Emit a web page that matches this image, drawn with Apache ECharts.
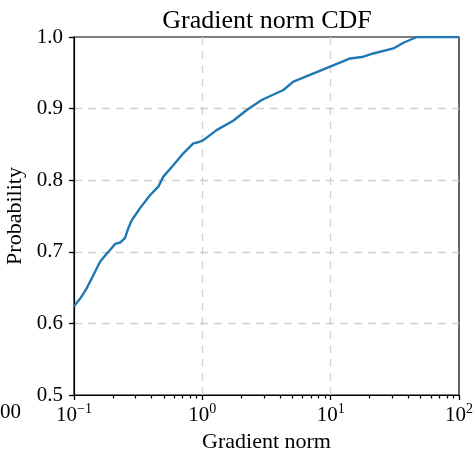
<!DOCTYPE html>
<html><head><meta charset="utf-8">
<script src="https://cdn.jsdelivr.net/npm/echarts@6/dist/echarts.min.js"></script>
<style>html,body{margin:0;padding:0;background:#fff}#c{width:475px;height:449px}</style>
</head><body><div id="c"></div>
<script>
const gradNorm = [0.1, 0.113, 0.1256, 0.142, 0.1596, 0.175, 0.191, 0.209, 0.2296, 0.2496, 0.265, 0.282, 0.327, 0.391, 0.454, 0.497, 0.594, 0.711, 0.851, 0.93, 1.02, 1.29, 1.74, 2.22, 2.90, 4.28, 5.12, 6.9, 9.9, 14.2, 18.0, 21.5, 30.8, 36.9, 46.9, 100];
const probability = [0.624, 0.636, 0.649, 0.668, 0.686, 0.695, 0.7025, 0.711, 0.713, 0.719, 0.733, 0.744, 0.761, 0.779, 0.791, 0.805, 0.821, 0.8376, 0.8515, 0.853, 0.856, 0.870, 0.883, 0.898, 0.912, 0.926, 0.9376, 0.947, 0.9585, 0.970, 0.9725, 0.977, 0.984, 0.992, 1.0, 1.0];
const minorTicks = [0.2,0.3,0.4,0.5,0.6,0.7,0.8,0.9,2,3,4,5,6,7,8,9,20,30,40,50,60,70,80,90];
const yTicks = [0.5, 0.6, 0.7, 0.8, 0.9, 1.0];

const FONT = '"Liberation Serif", "DejaVu Serif", serif';
const chart = echarts.init(document.getElementById('c'), null, {renderer: 'canvas'});
const split = {show: true, showMinLine: false, showMaxLine: false, lineStyle: {color: '#d0d0d0', type: [8, 6], width: 1.3}};
chart.setOption({
  animation: false,
  title: {text: 'Gradient norm CDF', left: 262, textAlign: 'center', top: 3,
    textStyle: {fontFamily: FONT, fontSize: 26, fontWeight: 'normal', color: '#000'}},
  grid: {left: 74, right: 16, top: 37, bottom: 54, show: true, borderColor: '#000', borderWidth: 1.2,
    backgroundColor: 'transparent', outerBoundsMode: 'none', containLabel: false},
  xAxis: {type: 'log', logBase: 10, min: 0.1, max: 100,
    name: 'Gradient norm', nameLocation: 'middle', nameGap: 28,
    nameTextStyle: {fontFamily: FONT, fontSize: 22, color: '#000'},
    axisLine: {show: true, lineStyle: {color: '#000', width: 1.2}},
    axisTick: {show: true, inside: false, length: 5, lineStyle: {color: '#000', width: 1.3}},
    splitLine: split,
    axisLabel: {margin: 7, color: '#000',
      formatter: v => { const e = Math.round(Math.log10(v)); return '{b|10}{s|' + (e < 0 ? '\u2212' + (-e) : e) + '}'; },
      rich: {b: {fontFamily: FONT, fontSize: 21, color: '#000', verticalAlign: 'bottom', lineHeight: 24},
             s: {fontFamily: FONT, fontSize: 14, color: '#000', verticalAlign: 'top', lineHeight: 24}}}
  },
  yAxis: {type: 'value', min: 0.5, max: 1.0, interval: 0.1,
    name: 'Probability', nameLocation: 'middle', nameGap: 46,
    nameTextStyle: {fontFamily: FONT, fontSize: 22, color: '#000'},
    axisLine: {show: true, lineStyle: {color: '#000', width: 1.2}},
    axisTick: {show: true, inside: false, length: 5, lineStyle: {color: '#000', width: 1.3}},
    splitLine: split,
    axisLabel: {margin: 11, color: '#000', fontFamily: FONT, fontSize: 21, formatter: v => v.toFixed(1)}
  },
  graphic: [{type: 'text', left: 0, top: 402, style: {text: '00', font: '21px ' + FONT, fill: '#000'}}],
  series: [
    {type: 'line', data: gradNorm.map((x, i) => [x, probability[i]]), showSymbol: false,
      lineStyle: {color: '#1f77b4', width: 2.4}, clip: true, z: 5},
    {type: 'custom', coordinateSystem: 'cartesian2d', clip: false, silent: true, z: 20,
      encode: {x: 0, y: 1},
      data: minorTicks.map(v => [v, yTicks[0]]),
      renderItem: function (params, api) {
        const p = api.coord([api.value(0), api.value(1)]);
        const x = Math.round(p[0]) + 0.5;
        return {type: 'rect', shape: {x: x - 0.6, y: p[1], width: 1.2, height: 3.5},
          style: {fill: '#000'}};
      }}
  ]
});
</script></body></html>
